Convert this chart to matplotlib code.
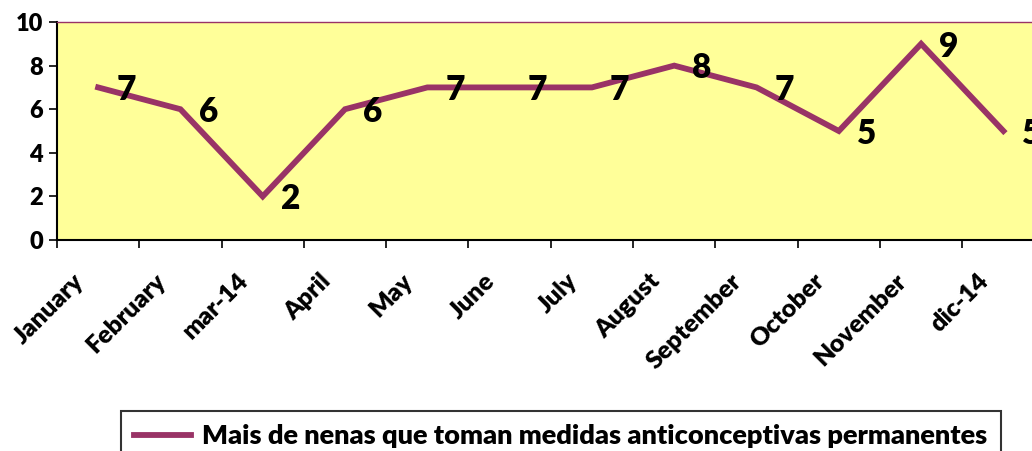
import matplotlib.pyplot as plt
import matplotlib.transforms as mtransforms

months = ['January', 'February', 'mar-14', 'April', 'May', 'June', 'July',
          'August', 'September', 'October', 'November', 'dic-14']
valores = [7, 6, 2, 6, 7, 7, 7, 8, 7, 5, 9, 5]
serie = 'Mais de nenas que toman medidas anticonceptivas permanentes'

plt.rcParams['font.family'] = ['Lato', 'DejaVu Sans']
plt.rcParams['font.weight'] = 'heavy'

color = '#993366'
fig = plt.figure(figsize=(10.32, 4.51), dpi=100)
ax = fig.add_axes([0.0552, 0.4678, 0.957, 0.4834])
ax.set_facecolor('#FFFF99')

x = [i + 0.5 for i in range(len(valores))]
ax.plot(x, valores, color=color, lw=4.2, label=serie, solid_joinstyle='miter')

# etiquetas de datos a la derecha del punto
for xi, v in zip(x, valores):
    ax.annotate(str(v), (xi, v), xytext=(20, -2), textcoords='offset points',
                fontsize=24, fontweight='heavy', ha='center', va='center')

ax.set_xlim(0, 12)
ax.set_ylim(0, 10)
ax.set_yticks(range(0, 11, 2))
ax.tick_params(axis='y', labelsize=17, length=6, width=1.2, direction='out', pad=4)
ax.set_xticks(range(0, 13))
ax.set_xticklabels([])
ax.tick_params(axis='x', which='major', length=6, width=1.2, direction='out')
ax.set_xticks(x, minor=True)
ax.set_xticklabels(months, minor=True, rotation=45, ha='right', va='center',
                   rotation_mode='anchor', fontsize=18, fontweight='heavy')
ax.tick_params(axis='x', which='minor', length=0, pad=27)
offset = mtransforms.ScaledTranslation(-13 / 72, 0, fig.dpi_scale_trans)
for lbl in ax.get_xticklabels(minor=True):
    lbl.set_transform(lbl.get_transform() + offset)

ax.spines['top'].set_color(color)
ax.spines['top'].set_linewidth(1)
ax.spines['left'].set_linewidth(1.5)
ax.spines['bottom'].set_linewidth(1.5)
ax.spines['right'].set_visible(False)

leg = fig.legend(loc='upper left', bbox_to_anchor=(0.117, 0.089), fontsize=19.5,
                 frameon=True, fancybox=False, edgecolor='black', handlelength=2.1,
                 borderpad=0.5, handletextpad=0.4, borderaxespad=0)
leg.get_frame().set_linewidth(1.5)
for t in leg.get_texts():
    t.set_fontweight('heavy')

plt.savefig('out.png', dpi=100)
